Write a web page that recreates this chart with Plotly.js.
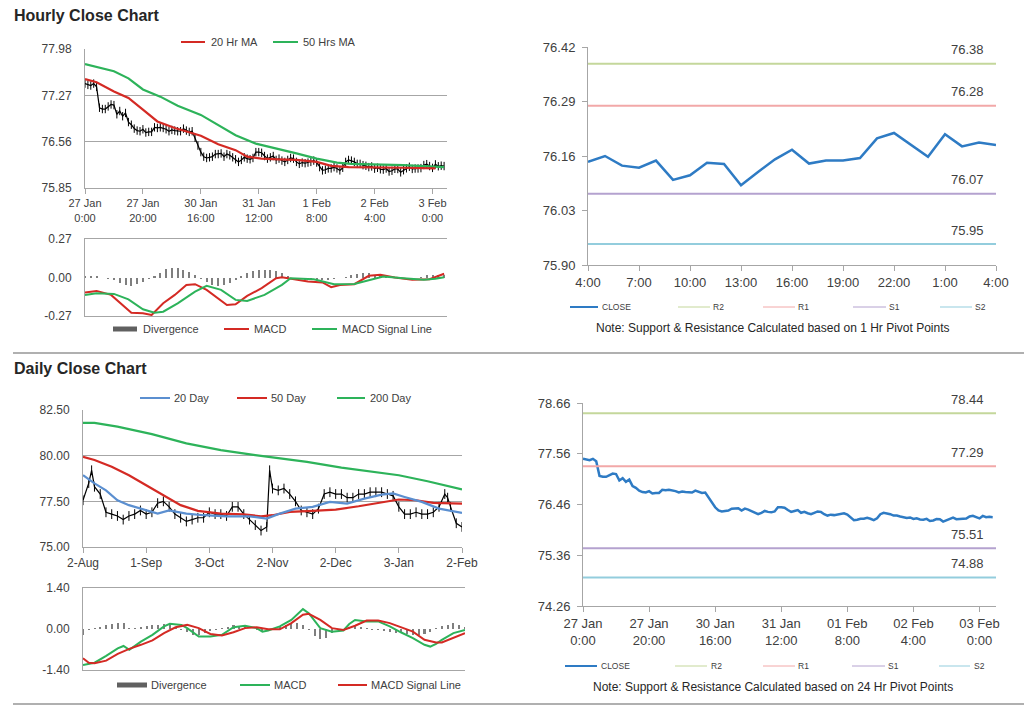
<!DOCTYPE html>
<html><head><meta charset="utf-8">
<script src="https://cdn.plot.ly/plotly-3.0.1.min.js"></script>
<style>html,body{margin:0;padding:0;background:#fff}#chart{width:1024px;height:706px}</style>
</head><body><div id="chart"></div><script>
// ---------------- DATA ----------------
// Hourly close (27 Jan 0:00 -> 3 Feb 4:00), one value per hour bar
const hourlyClose = [
77.45,77.43,77.42,77.45,77.40,77.08,77.06,77.06,77.10,77.13,
77.12,76.98,77.03,76.95,77.00,76.86,76.82,76.76,76.73,76.72,
76.75,76.70,76.71,76.71,76.78,76.77,76.78,76.77,76.75,76.72,
76.74,76.73,76.72,76.72,76.76,76.73,76.71,76.72,76.62,76.50,
76.40,76.33,76.31,76.32,76.33,76.37,76.37,76.38,76.33,76.37,
76.35,76.32,76.29,76.25,76.28,76.32,76.30,76.29,76.31,76.40,
76.40,76.39,76.34,76.30,76.32,76.34,76.28,76.30,76.27,76.25,
76.28,76.31,76.30,76.25,76.22,76.24,76.23,76.24,76.25,76.27,
76.24,76.17,76.12,76.13,76.15,76.15,76.17,76.15,76.12,76.16,
76.25,76.28,76.27,76.25,76.22,76.22,76.20,76.19,76.17,76.18,
76.146,76.160,76.137,76.132,76.149,76.103,76.114,76.144,76.141,76.090,
76.122,76.152,76.175,76.142,76.149,76.149,76.155,76.202,76.215,76.186,
76.158,76.212,76.183,76.192,76.186];
const hourlyTickLabels = ['27 Jan<br>0:00','27 Jan<br>20:00','30 Jan<br>16:00','31 Jan<br>12:00','1 Feb<br>8:00','2 Feb<br>4:00','3 Feb<br>0:00'];
const hourlyTickLabels2 = ['27 Jan<br>0:00','27 Jan<br>20:00','30 Jan<br>16:00','31 Jan<br>12:00','01 Feb<br>8:00','02 Feb<br>4:00','03 Feb<br>0:00'];

const ma20Hr_x = [0,4,10,15,20,25,31,35,40,46,52,56,61,67,73,80,85,91,98,110,121];
const ma20Hr   = [77.52,77.47,77.33,77.23,77.05,76.87,76.77,76.72,76.65,76.52,76.43,76.33,76.30,76.29,76.28,76.25,76.19,76.17,76.17,76.16,76.15];
const ma50Hr_x = [0,4,10,15,20,26,32,40,46,52,59,66,73,80,87,92,102,110,124];
const ma50Hr   = [77.75,77.71,77.64,77.53,77.36,77.25,77.11,76.97,76.82,76.66,76.53,76.46,76.38,76.30,76.24,76.22,76.21,76.20,76.17];

const hMacd_x = [0,4,9,16,20,23,27,31,35,38,42,49,52,56,61,66,68,73,77,82,85,88,93,98,102,107,113,119,121,124];
const hMacd   = [-0.106,-0.094,-0.122,-0.247,-0.251,-0.263,-0.181,-0.122,-0.052,-0.047,-0.087,-0.193,-0.188,-0.129,-0.075,-0.005,0.002,-0.016,-0.028,-0.035,-0.068,-0.052,-0.047,0.012,0.019,0.000,-0.016,-0.012,0.002,0.026];
const hSignal_x = [0,4,10,15,20,24,27,32,38,42,47,52,56,62,68,71,79,86,93,98,103,110,117,121,124];
const hSignal   = [-0.122,-0.110,-0.115,-0.153,-0.223,-0.247,-0.240,-0.181,-0.099,-0.059,-0.087,-0.157,-0.164,-0.122,-0.052,-0.005,-0.012,-0.047,-0.045,-0.021,0.007,-0.005,-0.016,-0.009,0.002];
// divergence, every second hour bar
const hDivergence = [0.01,0.01,0.01,0,-0.01,-0.02,-0.04,-0.055,-0.06,-0.045,
-0.03,-0.01,0.01,0.03,0.06,0.07,0.065,0.05,0.04,0.02,
-0.01,-0.03,-0.05,-0.06,-0.055,-0.04,-0.02,0.01,0.03,0.045,
0.05,0.05,0.05,0.045,0.03,0.01,-0.005,-0.01,-0.015,-0.015,
-0.02,-0.02,-0.015,-0.01,-0.005,0.005,0.015,0.025,0.03,0.03,
0.02,0.01,0.005,-0.005,-0.01,-0.01,-0.01,-0.005,0.005,0.015,
0.02,0.02,0.02];

// Last 24 hours (4:00 -> 4:00) with 1 Hr pivots
const lastDayLabels = ['4:00','7:00','10:00','13:00','16:00','19:00','22:00','1:00','4:00'];
const pivot1Hr = {R2:76.38, R1:76.28, S1:76.07, S2:75.95};
const pivot24Hr = {R2:78.44, R1:77.29, S1:75.51, S2:74.88};

// Daily (2-Aug -> 2-Feb), trading-day index
const dailyTickLabels = ['2-Aug','1-Sep','3-Oct','2-Nov','2-Dec','3-Jan','2-Feb'];
const daily_x = [0,2,3,4,6,8,10,12,14,16,18,20,22,24,26,28,30,32,34,36,38,40,42,44,46,48,50,52,54,56,58,60,62,64,65,66,68,70,72,74,76,78,80,82,84,86,88,90,92,94,96,98,100,102,104,106,108,110,112,114,116,118,120,122,124,126,127,128,130,132];
const dailyClose = [77.56,78.5,79.2,78.3,77.9,76.9,76.8,76.7,76.5,76.7,76.8,77.0,76.8,76.9,77.4,77.5,77.2,76.8,76.6,76.4,76.5,76.6,76.6,76.9,76.8,76.8,76.7,77.2,77.2,76.8,76.5,76.2,75.9,76.1,79.2,78.2,78.1,78.2,77.9,77.5,77.0,76.9,76.8,77.1,77.9,78.0,77.9,77.9,77.7,77.7,77.9,77.9,78.0,78.0,78.0,77.9,77.8,77.2,76.8,76.8,76.9,76.8,76.8,76.9,77.2,77.9,77.7,77.2,76.3,76.1];
const ma20Day_x = [0,4,8,12,16,20,26,30,36,42,50,58,64,68,74,80,86,92,98,104,108,112,118,124,128,132];
const ma20Day   = [78.93,78.48,78.1,77.56,77.29,77.1,76.83,77.0,76.83,76.74,76.68,76.68,76.56,76.8,77.1,77.2,77.47,77.38,77.65,77.87,77.93,77.74,77.47,77.1,77.0,76.87];
const ma50Day_x = [0,4,10,16,22,28,34,40,48,56,62,66,72,80,88,96,104,110,116,122,132];
const ma50Day   = [79.94,79.76,79.39,78.93,78.38,77.84,77.29,76.98,76.83,76.79,76.68,76.74,76.92,76.98,77.05,77.23,77.42,77.6,77.56,77.42,77.38];
const ma200Day_x = [0,4,12,24,36,48,60,66,78,90,100,110,120,126,132];
const ma200Day   = [81.8,81.8,81.59,81.18,80.67,80.3,80.03,79.9,79.66,79.35,79.15,78.93,78.6,78.38,78.15];

const dMacd_x = [0,4,8,12,14,16,20,24,28,30,34,36,40,44,48,52,56,60,62,64,68,72,76,78,82,86,90,92,94,98,102,106,110,114,118,120,122,124,128,132];
const dMacd   = [-1.23,-1.15,-0.92,-0.66,-0.58,-0.71,-0.43,-0.20,0.09,0.18,0.14,0.03,-0.26,-0.26,-0.20,0.06,0.11,0.03,-0.09,-0.05,0.09,0.31,0.68,0.54,0.03,-0.09,-0.05,0.17,0.31,0.26,0.26,0.09,-0.12,-0.31,-0.54,-0.60,-0.51,-0.37,-0.14,-0.03];
const dSignal_x = [0,2,4,8,12,16,20,24,28,32,36,40,44,48,52,56,60,64,68,72,76,78,82,86,90,94,98,102,106,110,114,118,122,124,128,132];
const dSignal   = [-1.0,-1.15,-1.17,-1.08,-0.85,-0.68,-0.54,-0.39,-0.14,0.06,0.14,0.03,-0.17,-0.22,-0.11,0.03,0.06,-0.01,-0.01,0.2,0.49,0.52,0.31,0.03,-0.03,0.11,0.29,0.29,0.2,0.06,-0.09,-0.37,-0.46,-0.46,-0.31,-0.14];
// divergence, every second trading day
const dDivergence = [-0.2,-0.05,0.02,0.08,0.12,0.18,0.22,0.2,0.05,0.03,
0.08,0.1,0.12,0.15,0.18,0.15,0.08,-0.02,-0.1,-0.2,
-0.22,-0.15,-0.08,-0.02,0.02,0.08,0.12,0.1,0.06,0,
-0.04,-0.06,-0.02,0.05,0.1,0.15,0.18,0.2,0.15,-0.02,
-0.25,-0.35,-0.3,-0.15,-0.05,0,0.08,0.12,0.08,0.03,
-0.02,-0.05,-0.08,-0.1,-0.12,-0.15,-0.18,-0.2,-0.22,-0.18,
-0.1,0.02,0.1,0.15,0.2,0.15,0.08];

// ---------------- STYLE / HELPERS ----------------
const FONT = 'Liberation Sans, Arial, sans-serif';
const TXT = '#404040';
const AX = '#a6a6a6';
const RED = '#d42a24', GREEN = '#2db35a', BLUE = '#2e7bc4', LBLUE = '#5b8fd0', GRAY = '#7f7f7f';
const LVL = {R2:'#c4d79b', R1:'#f2a8a8', S1:'#b4a2cf', S2:'#93cddd'};
const W = 1024, H = 706;
const X = p => p / W, Y = p => 1 - p / H;
const idx = a => a.map((_, i) => i);
const idx2 = a => a.map((_, i) => i * 2);

const traces = [];
const shapes = [];
const annotations = [];

function line(xa, ya, x, y, color, width, extra) {
  traces.push(Object.assign({type:'scatter', mode:'lines', x:x, y:y, xaxis:xa, yaxis:ya,
    line:{color:color, width:width}, hoverinfo:'skip', showlegend:false}, extra || {}));
}
function bars(xa, ya, x, y) {
  traces.push({type:'bar', x:x, y:y, xaxis:xa, yaxis:ya, width:0.7, marker:{color:GRAY, line:{width:0}},
    hoverinfo:'skip', showlegend:false});
}
function legend(items, y, size) {
  items.forEach(it => {
    shapes.push({type:'line', xref:'paper', yref:'paper', x0:X(it.x0), x1:X(it.x1), y0:Y(y), y1:Y(y),
      line:{color:it.color, width:it.w}});
    annotations.push({xref:'paper', yref:'paper', x:X(it.tx), y:Y(y), xanchor:'left', yanchor:'middle',
      text:it.text, showarrow:false, font:{family:FONT, size:size, color:TXT}});
  });
}
function levels(xa, ya, lv, labelX) {
  ['R2','R1','S1','S2'].forEach(k => {
    shapes.push({type:'line', xref:xa + ' domain', yref:ya, x0:0, x1:1, y0:lv[k], y1:lv[k],
      line:{color:LVL[k], width:2}});
    annotations.push({xref:xa + ' domain', yref:ya, x:labelX, y:lv[k], yshift:14, xanchor:'center', yanchor:'middle',
      text:lv[k].toFixed(2), showarrow:false, font:{family:FONT, size:13, color:TXT}});
  });
}
const baseAxis = {showgrid:false, zeroline:false, showline:true, linecolor:AX, linewidth:1,
  tickfont:{family:FONT, size:12, color:TXT}, fixedrange:true};
function ax(o) { return Object.assign({}, baseAxis, o); }

// ---------------- PANEL A : hourly close ----------------
line('x','y', idx(hourlyClose), hourlyClose, '#000', 1.2,
  {mode:'lines+markers', marker:{symbol:'line-ns-open', size:6, color:'#000', line:{width:1, color:'#000'}}});
line('x','y', ma50Hr_x, ma50Hr, GREEN, 2.2);
line('x','y', ma20Hr_x, ma20Hr, RED, 2.2);

// ---------------- PANEL B : hourly MACD ----------------
bars('x2','y2', idx2(hDivergence), hDivergence);
line('x2','y2', hMacd_x, hMacd, RED, 2);
line('x2','y2', hSignal_x, hSignal, GREEN, 2);

// ---------------- PANEL C : last 24h 1Hr pivots ----------------
const last24 = hourlyClose.slice(hourlyClose.length - 25);
levels('x3','y3', pivot1Hr, 0.93);
line('x3','y3', idx(last24), last24, BLUE, 2.5);

// ---------------- PANEL D : daily close ----------------
line('x4','y4', daily_x, dailyClose, '#000', 1.2,
  {mode:'lines+markers', marker:{symbol:'line-ns-open', size:7, color:'#000', line:{width:1, color:'#000'}}});
line('x4','y4', ma200Day_x, ma200Day, GREEN, 2.2);
line('x4','y4', ma50Day_x, ma50Day, RED, 2.2);
line('x4','y4', ma20Day_x, ma20Day, LBLUE, 2.2);

// ---------------- PANEL E : daily MACD ----------------
bars('x5','y5', idx2(dDivergence), dDivergence);
line('x5','y5', dMacd_x, dMacd, GREEN, 2);
line('x5','y5', dSignal_x, dSignal, RED, 2);

// ---------------- PANEL F : hourly close with 24h pivots ----------------
levels('x6','y6', pivot24Hr, 0.93);
line('x6','y6', idx(hourlyClose), hourlyClose, BLUE, 2.5);

// ---------------- Legends / texts ----------------
legend([{x0:181,x1:205,tx:209,color:RED,w:2,text:'20 Hr MA'},
        {x0:273,x1:298,tx:301,color:GREEN,w:2,text:'50 Hrs MA'}], 42, 11);
legend([{x0:113,x1:137,tx:141,color:'#606060',w:5,text:'Divergence'},
        {x0:224,x1:249,tx:252,color:RED,w:2,text:'MACD'},
        {x0:312,x1:337,tx:340,color:GREEN,w:2,text:'MACD Signal Line'}], 329, 11);
legend([{x0:570,x1:598,tx:600,color:BLUE,w:2,text:'CLOSE'},
        {x0:678,x1:710,tx:711,color:LVL.R2,w:1,text:'R2'},
        {x0:763,x1:795,tx:796,color:LVL.R1,w:1,text:'R1'},
        {x0:853,x1:886,tx:887,color:LVL.S1,w:1,text:'S1'},
        {x0:940,x1:972,tx:973,color:LVL.S2,w:1,text:'S2'}], 307, 8.5);
legend([{x0:140,x1:170,tx:172,color:LBLUE,w:2,text:'20 Day'},
        {x0:237,x1:267,tx:269,color:RED,w:2,text:'50 Day'},
        {x0:337,x1:365,tx:368,color:GREEN,w:2,text:'200 Day'}], 398, 11);
legend([{x0:117,x1:147,tx:149,color:'#606060',w:5,text:'Divergence'},
        {x0:240,x1:270,tx:272,color:GREEN,w:2,text:'MACD'},
        {x0:338,x1:367,tx:369,color:RED,w:2,text:'MACD Signal Line'}], 685, 11);
legend([{x0:565,x1:597,tx:599,color:BLUE,w:2,text:'CLOSE'},
        {x0:675,x1:707,tx:709,color:LVL.R2,w:1,text:'R2'},
        {x0:763,x1:795,tx:796,color:LVL.R1,w:1,text:'R1'},
        {x0:852,x1:885,tx:886,color:LVL.S1,w:1,text:'S1'},
        {x0:939,x1:970,tx:972,color:LVL.S2,w:1,text:'S2'}], 666, 8.5);

annotations.push({xref:'paper', yref:'paper', x:X(773), y:Y(328), xanchor:'center', yanchor:'middle', showarrow:false,
  text:'Note: Support & Resistance Calculated based on 1 Hr Pivot Points', font:{family:FONT, size:12, color:'#262626'}});
annotations.push({xref:'paper', yref:'paper', x:X(773), y:Y(687), xanchor:'center', yanchor:'middle', showarrow:false,
  text:'Note: Support & Resistance Calculated based on 24 Hr Pivot Points', font:{family:FONT, size:12, color:'#262626'}});
annotations.push({xref:'paper', yref:'paper', x:X(12), y:Y(16), xanchor:'left', yanchor:'middle', showarrow:false,
  text:'<b>Hourly Close Chart</b>', font:{family:FONT, size:16, color:'#262626'}});
annotations.push({xref:'paper', yref:'paper', x:X(12), y:Y(369), xanchor:'left', yanchor:'middle', showarrow:false,
  text:'<b>Daily Close Chart</b>', font:{family:FONT, size:16, color:'#262626'}});

shapes.push({type:'line', xref:'paper', yref:'paper', x0:X(13), x1:1, y0:Y(353), y1:Y(353), line:{color:'#b0b0b0', width:2}});
shapes.push({type:'line', xref:'paper', yref:'paper', x0:X(13), x1:1, y0:Y(704), y1:Y(704), line:{color:'#b0b0b0', width:2}});

// ---------------- LAYOUT ----------------
const hTicks = hourlyTickLabels.map((_, k) => k * 20);
const dTicks = dailyTickLabels.map((_, k) => k * 22);
const layout = {
  width:W, height:H, margin:{l:0, r:0, t:0, b:0}, paper_bgcolor:'#fff', plot_bgcolor:'rgba(0,0,0,0)',
  showlegend:false, bargap:0,
  font:{family:FONT, color:TXT},
  // A
  xaxis: ax({domain:[X(85),X(447)], anchor:'y', range:[0,125], tickvals:hTicks, ticktext:hourlyTickLabels,
    ticks:'outside', ticklen:5, tickcolor:AX, tickfont:{family:FONT, size:11, color:TXT}}),
  yaxis: ax({domain:[Y(188),Y(49)], anchor:'x', range:[75.85,77.98], tickvals:[75.85,76.56,77.27,77.98],
    ticktext:['75.85','76.56','77.27','77.98'], showgrid:true, gridcolor:AX, ticklabelstandoff:10}),
  // B
  xaxis2: ax({domain:[X(85),X(447)], anchor:'y2', range:[0,125], showticklabels:false, mirror:true}),
  yaxis2: ax({domain:[Y(316),Y(239)], anchor:'x2', range:[-0.27,0.27], tickvals:[-0.27,0,0.27],
    ticktext:['-0.27','0.00','0.27'], ticklabelstandoff:10}),
  // C
  xaxis3: ax({domain:[X(588),X(996)], anchor:'y3', range:[0,24], tickvals:lastDayLabels.map((_,k)=>k*3),
    ticktext:lastDayLabels, ticks:'outside', ticklen:5, tickcolor:AX, tickfont:{family:FONT, size:13, color:TXT}}),
  yaxis3: ax({domain:[Y(265),Y(47)], anchor:'x3', range:[75.90,76.42], tickvals:[75.90,76.03,76.16,76.29,76.42],
    ticktext:['75.90','76.03','76.16','76.29','76.42'], ticks:'outside', ticklen:5, tickcolor:AX,
    tickfont:{family:FONT, size:13, color:TXT}, ticklabelstandoff:4}),
  // D
  xaxis4: ax({domain:[X(83),X(462)], anchor:'y4', range:[0,132], tickvals:dTicks, ticktext:dailyTickLabels,
    ticks:'outside', ticklen:5, tickcolor:AX}),
  yaxis4: ax({domain:[Y(547),Y(410)], anchor:'x4', range:[75,82.5], tickvals:[75,77.5,80,82.5],
    ticktext:['75.00','77.50','80.00','82.50'], showgrid:true, gridcolor:AX, ticklabelstandoff:10}),
  // E
  xaxis5: ax({domain:[X(83),X(465)], anchor:'y5', range:[0,132], showticklabels:false, mirror:true}),
  yaxis5: ax({domain:[Y(670),Y(588)], anchor:'x5', range:[-1.4,1.4], tickvals:[-1.4,0,1.4],
    ticktext:['-1.40','0.00','1.40'], ticklabelstandoff:10}),
  // F
  xaxis6: ax({domain:[X(583),X(996)], anchor:'y6', range:[0,125], tickvals:hTicks, ticktext:hourlyTickLabels2,
    ticks:'outside', ticklen:5, tickcolor:AX, tickfont:{family:FONT, size:13, color:TXT}}),
  yaxis6: ax({domain:[Y(606),Y(403)], anchor:'x6', range:[74.26,78.66], tickvals:[74.26,75.36,76.46,77.56,78.66],
    ticktext:['74.26','75.36','76.46','77.56','78.66'], ticks:'outside', ticklen:5, tickcolor:AX,
    tickfont:{family:FONT, size:13, color:TXT}, ticklabelstandoff:4}),
  shapes: shapes,
  annotations: annotations
};
Plotly.newPlot('chart', traces, layout, {staticPlot:true, displayModeBar:false});
</script></body></html>
